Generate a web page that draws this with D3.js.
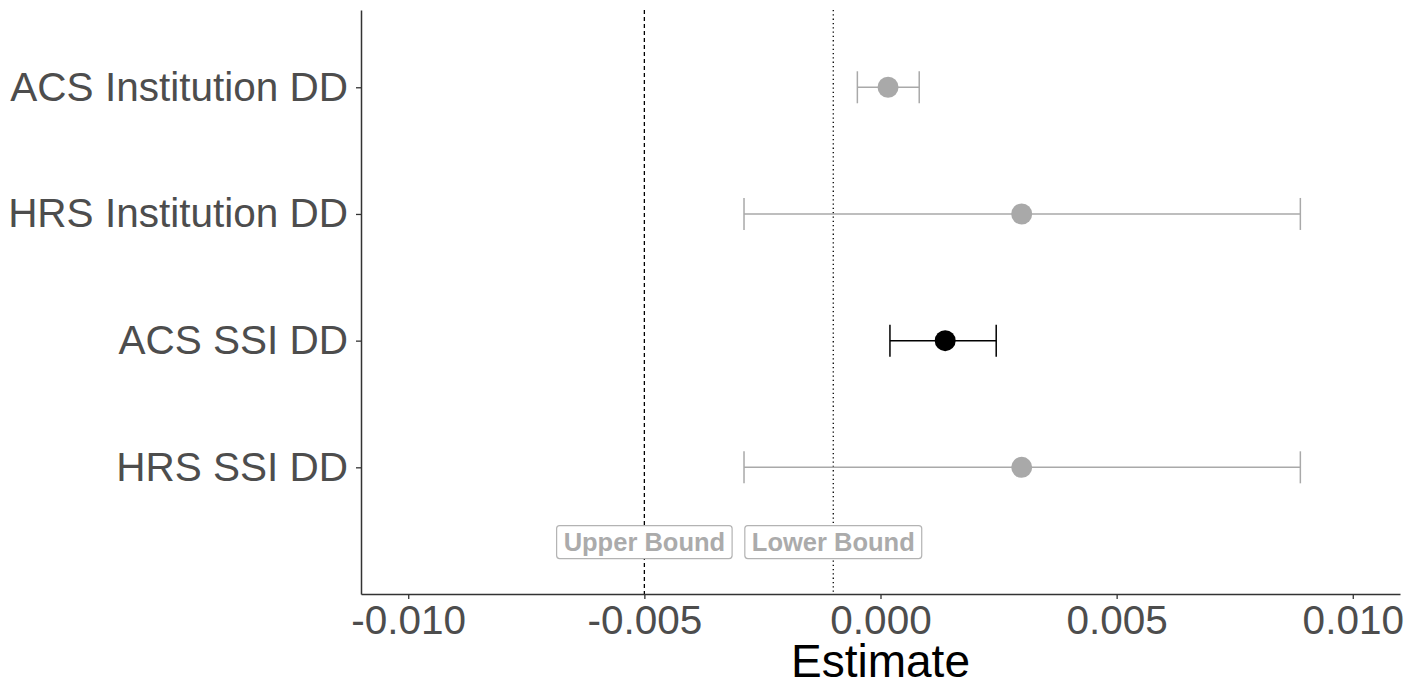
<!DOCTYPE html>
<html>
<head>
<meta charset="utf-8">
<script src="https://cdn.jsdelivr.net/npm/d3@7"></script>
<style>
  body { margin: 0; background: #fff; }
  svg { display: block; font-family: "Liberation Sans", Arial, sans-serif; }
</style>
</head>
<body>
<svg id="chart" width="1407" height="684"></svg>
<script>
// estimates with confidence intervals, top to bottom
var labels = ["ACS Institution DD", "HRS Institution DD", "ACS SSI DD", "HRS SSI DD"];
var estimates = [0.00016, 0.00299, 0.00137, 0.00299];
var lows = [-0.00049, -0.00289, 0.00020, -0.00289];
var highs = [0.00082, 0.00889, 0.00245, 0.00889];
var significant = [false, false, true, false];
var xTicks = [-0.010, -0.005, 0.000, 0.005, 0.010];
var boundValues = [-0.005, -0.001];
var boundLabels = ["Upper Bound", "Lower Bound"];

var svg = d3.select('#chart');
var plotLeft = 361, plotRight = 1400, plotTop = 10, plotBottom = 594;

var x = d3.scaleLinear().domain([-0.011, 0.011]).range([plotLeft, plotRight]);
// category index: top row highest
var y = d3.scaleLinear().domain([0, 4.61]).range([plotBottom, plotTop]);
var rowY = function (i) { return y(labels.length - i); };

// reference lines
svg.selectAll('.bound-line').data(boundValues).enter().append('line')
    .attr('class', 'bound-line')
    .attr('x1', function (d) { return x(d); }).attr('x2', function (d) { return x(d); })
    .attr('y1', plotTop).attr('y2', plotBottom)
    .attr('stroke', '#000').attr('stroke-width', 1.3)
    .attr('stroke-dasharray', function (d, i) { return i === 0 ? '4 3' : '1.3 3'; });

// bound labels
var lab = svg.selectAll('.bound-label').data(boundValues).enter().append('g')
    .attr('class', 'bound-label')
    .attr('transform', function (d) { return 'translate(' + x(d) + ',' + y(0.41) + ')'; });
lab.append('text')
    .attr('text-anchor', 'middle').attr('dy', '0.36em')
    .attr('font-size', 25.5).attr('font-weight', 'bold').attr('fill', '#ababab')
    .text(function (d, i) { return boundLabels[i]; });
lab.each(function () {
    var g = d3.select(this);
    var bb = g.select('text').node().getBBox();
    g.insert('rect', 'text')
        .attr('x', bb.x - 7).attr('y', -16.5)
        .attr('width', bb.width + 14).attr('height', 33)
        .attr('rx', 3).attr('fill', '#fff')
        .attr('stroke', '#b3b3b3').attr('stroke-width', 1.2);
});

// error bars
var rows = svg.selectAll('.row').data(labels).enter().append('g').attr('class', 'row');
var color = function (i) { return significant[i] ? '#000' : '#a9a9a9'; };
rows.append('line')
    .attr('x1', function (d, i) { return x(lows[i]); })
    .attr('x2', function (d, i) { return x(highs[i]); })
    .attr('y1', function (d, i) { return rowY(i); })
    .attr('y2', function (d, i) { return rowY(i); })
    .attr('stroke', function (d, i) { return color(i); }).attr('stroke-width', 1.5);
[lows, highs].forEach(function (arr) {
    rows.append('line')
        .attr('x1', function (d, i) { return x(arr[i]); })
        .attr('x2', function (d, i) { return x(arr[i]); })
        .attr('y1', function (d, i) { return rowY(i) - 16; })
        .attr('y2', function (d, i) { return rowY(i) + 16; })
        .attr('stroke', function (d, i) { return color(i); }).attr('stroke-width', 1.5);
});
rows.append('circle')
    .attr('cx', function (d, i) { return x(estimates[i]); })
    .attr('cy', function (d, i) { return rowY(i); })
    .attr('r', 10.5)
    .attr('fill', function (d, i) { return color(i); });

// x axis
var xAxis = svg.append('g').attr('transform', 'translate(0,' + plotBottom + ')')
    .call(d3.axisBottom(x).tickValues(xTicks).tickFormat(d3.format('.3f')).tickSize(5).tickSizeOuter(0));
xAxis.select('.domain').attr('stroke', '#333').attr('stroke-width', 1.5);
xAxis.selectAll('.tick line').attr('stroke', '#333').attr('stroke-width', 1.3);
xAxis.selectAll('.tick text').attr('font-size', 40.5).attr('fill', '#4d4d4d')
    .attr('font-family', '"Liberation Sans", Arial, sans-serif').attr('dy', '0.8em')
    .text(function (d) { return d3.format('.3f')(d).replace('\u2212', '-'); });

// y axis
var yAxis = svg.append('g').attr('transform', 'translate(' + plotLeft + ',0)')
    .call(d3.axisLeft(y).tickValues([4, 3, 2, 1]).tickSize(5).tickSizeOuter(0)
        .tickFormat(function (d) { return labels[labels.length - d]; }));
yAxis.select('.domain').attr('stroke', '#333').attr('stroke-width', 1.5);
yAxis.selectAll('.tick line').attr('stroke', '#333').attr('stroke-width', 1.3);
yAxis.selectAll('.tick text').attr('font-size', 40.5).attr('fill', '#4d4d4d')
    .attr('font-family', '"Liberation Sans", Arial, sans-serif').attr('x', -13);

// axis title
svg.append('text')
    .attr('x', (plotLeft + plotRight) / 2).attr('y', 677)
    .attr('text-anchor', 'middle').attr('font-size', 46).attr('fill', '#000')
    .text('Estimate');
</script>
</body>
</html>
